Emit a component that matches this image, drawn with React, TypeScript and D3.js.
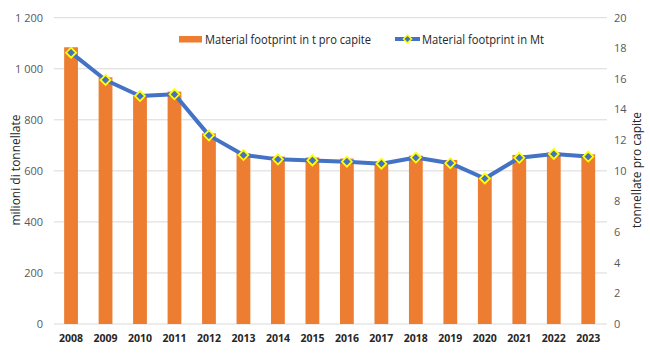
import React from "react";
import * as d3 from "d3";

const years = ["2008","2009","2010","2011","2012","2013","2014","2015","2016","2017","2018","2019","2020","2021","2022","2023"];
const perCapita = [18.07,16.11,14.91,15.17,12.45,11.15,10.93,10.87,10.8,10.6,10.99,10.71,9.73,11.04,11.19,11.08];
const megatonnes = [1063,956,893,900,739,662,645,641,636,628,652,630,570,651,666,656];
const leftTicks = [0,200,400,600,800,1000,1200];
const rightTicks = [0,2,4,6,8,10,12,14,16,18,20];
const barLabel = "Material footprint in t pro capite";
const lineLabel = "Material footprint in Mt";
const leftTitle = "milioni di tonnellate";
const rightTitle = "tonnellate pro capite";

const W = 650, H = 359;
const L = 53.8, R = 605.5, T = 17.7, B = 324;
const font = "'Open Sans', 'Liberation Sans', sans-serif";

function fmt(v: number) {
  const s = String(v);
  return s.length > 3 ? s.slice(0, s.length - 3) + " " + s.slice(-3) : s;
}

export default function App() {
  const x = d3.scaleBand().domain(years).range([L, R]).paddingInner(0).paddingOuter(0);
  const yL = d3.scaleLinear().domain([0, 1200]).range([B, T]);
  const yR = d3.scaleLinear().domain([0, 20]).range([B, T]);
  const bw = x.bandwidth() * 0.4;
  const cx = (y: string) => (x(y) as number) + x.bandwidth() / 2;
  const line = d3.line<number>().x((_, i) => cx(years[i])).y(d => yL(d));
  const diamond = (px: number, py: number, r: number) =>
    `M${px},${py - r}L${px + r},${py}L${px},${py + r}L${px - r},${py}Z`;

  return (
    <svg width={W} height={H} style={{ position: "absolute", left: 0, top: 0, background: "#fff" }}>
      {leftTicks.map(t => (
        <line key={"g" + t} x1={L} x2={R + 1.5} y1={yL(t)} y2={yL(t)} stroke="#d9d9d9" strokeWidth={1} />
      ))}
      {leftTicks.map(t => (
        <text key={"l" + t} x={43} y={yL(t)} dy="0.35em" textAnchor="end" fontSize={11} fill="#595959" fontFamily={font}>{fmt(t)}</text>
      ))}
      {rightTicks.map(t => (
        <text key={"r" + t} x={614} y={yR(t)} dy="0.35em" textAnchor="start" fontSize={11} fill="#595959" fontFamily={font}>{t}</text>
      ))}
      {years.map((yr, i) => (
        <rect key={"b" + yr} x={cx(yr) - bw / 2} y={yR(perCapita[i])} width={bw} height={B - yR(perCapita[i])} fill="#ed7d31" />
      ))}
      <path d={line(megatonnes) || ""} fill="none" stroke="#4472c4" strokeWidth={4} strokeLinejoin="round" />
      {years.map((yr, i) => (
        <path key={"m" + yr} d={diamond(cx(yr), yL(megatonnes[i]), 5)} fill="#4472c4" stroke="#ffff00" strokeWidth={1.8} />
      ))}
      {years.map(yr => (
        <text key={"x" + yr} x={cx(yr)} y={338} dy="0.35em" textAnchor="middle" fontSize={10.5} fontWeight="bold" fill="#262626" fontFamily={font}>{yr}</text>
      ))}
      <text transform={`translate(16,170) rotate(-90)`} textAnchor="middle" dy="0.35em" fontSize={12} fill="#262626" fontFamily={font}>{leftTitle}</text>
      <text transform={`translate(637,170) rotate(-90)`} textAnchor="middle" dy="0.35em" fontSize={12} fill="#262626" fontFamily={font}>{rightTitle}</text>
      <rect x={179} y={36} width={23} height={6.5} fill="#ed7d31" />
      <text x={205} y={39} dy="0.35em" fontSize={13} fill="#262626" fontFamily={font} textLength={166} lengthAdjust="spacingAndGlyphs">{barLabel}</text>
      <line x1={395} x2={420} y1={39} y2={39} stroke="#4472c4" strokeWidth={4} />
      <path d={diamond(407.5, 39, 4)} fill="#4472c4" stroke="#ffff00" strokeWidth={1.5} />
      <text x={422} y={39} dy="0.35em" fontSize={13} fill="#262626" fontFamily={font} textLength={122} lengthAdjust="spacingAndGlyphs">{lineLabel}</text>
    </svg>
  );
}
